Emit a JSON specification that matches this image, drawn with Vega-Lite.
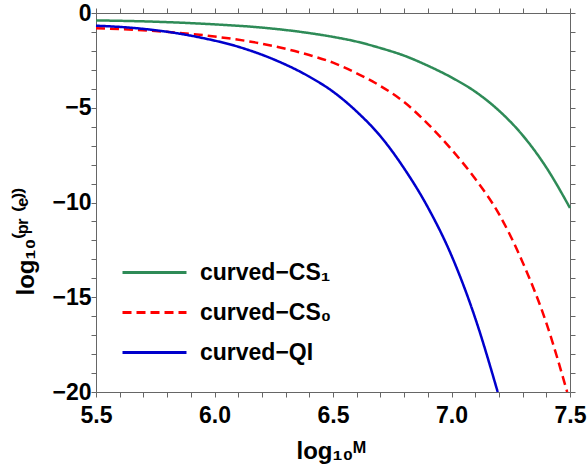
{
  "$schema": "https://vega.github.io/schema/vega-lite/v6.json",
  "width": 474,
  "height": 379,
  "autosize": {"type": "none"},
  "padding": {"left": 96, "top": 13, "right": 18, "bottom": 78},
  "config": {
    "view": {"stroke": null},
    "font": "Liberation Sans",
    "axis": {
      "grid": false,
      "zindex": 1,
      "domainColor": "#666666",
      "tickColor": "#666666",
      "domainWidth": 1,
      "tickWidth": 1,
      "labelFont": "Liberation Sans",
      "labelFontWeight": "bold",
      "labelFontSize": 23,
      "labelColor": "#000000",
      "titleFont": "Liberation Sans",
      "titleFontWeight": "bold",
      "titleFontSize": 24,
      "titleColor": "#000000"
    }
  },
  "data": {
    "values": [
      {"series": "curved−CS₁", "x": 5.5, "y": -0.39},
      {"series": "curved−CS₁", "x": 5.75, "y": -0.46},
      {"series": "curved−CS₁", "x": 6.0, "y": -0.6},
      {"series": "curved−CS₁", "x": 6.2, "y": -0.77},
      {"series": "curved−CS₁", "x": 6.4, "y": -1.06},
      {"series": "curved−CS₁", "x": 6.5, "y": -1.26},
      {"series": "curved−CS₁", "x": 6.6, "y": -1.51},
      {"series": "curved−CS₁", "x": 6.7, "y": -1.85},
      {"series": "curved−CS₁", "x": 6.8, "y": -2.25},
      {"series": "curved−CS₁", "x": 6.9, "y": -2.78},
      {"series": "curved−CS₁", "x": 7.0, "y": -3.4},
      {"series": "curved−CS₁", "x": 7.1, "y": -4.15},
      {"series": "curved−CS₁", "x": 7.2, "y": -5.15},
      {"series": "curved−CS₁", "x": 7.3, "y": -6.45},
      {"series": "curved−CS₁", "x": 7.4, "y": -8.15},
      {"series": "curved−CS₁", "x": 7.5, "y": -10.29},
      {"series": "curved−CS₀", "x": 5.5, "y": -0.8},
      {"series": "curved−CS₀", "x": 5.75, "y": -0.95},
      {"series": "curved−CS₀", "x": 6.0, "y": -1.24},
      {"series": "curved−CS₀", "x": 6.2, "y": -1.62},
      {"series": "curved−CS₀", "x": 6.4, "y": -2.22},
      {"series": "curved−CS₀", "x": 6.5, "y": -2.62},
      {"series": "curved−CS₀", "x": 6.6, "y": -3.18},
      {"series": "curved−CS₀", "x": 6.7, "y": -3.85},
      {"series": "curved−CS₀", "x": 6.8, "y": -4.7},
      {"series": "curved−CS₀", "x": 6.9, "y": -5.85},
      {"series": "curved−CS₀", "x": 7.0, "y": -7.2},
      {"series": "curved−CS₀", "x": 7.1, "y": -8.75},
      {"series": "curved−CS₀", "x": 7.2, "y": -10.6},
      {"series": "curved−CS₀", "x": 7.3, "y": -13.15},
      {"series": "curved−CS₀", "x": 7.4, "y": -16.35},
      {"series": "curved−CS₀", "x": 7.488, "y": -20},
      {"series": "curved−QI", "x": 5.5, "y": -0.67},
      {"series": "curved−QI", "x": 5.65, "y": -0.78},
      {"series": "curved−QI", "x": 5.8, "y": -0.99},
      {"series": "curved−QI", "x": 5.95, "y": -1.32},
      {"series": "curved−QI", "x": 6.1, "y": -1.78},
      {"series": "curved−QI", "x": 6.25, "y": -2.45},
      {"series": "curved−QI", "x": 6.4, "y": -3.36},
      {"series": "curved−QI", "x": 6.5, "y": -4.15},
      {"series": "curved−QI", "x": 6.6, "y": -5.2},
      {"series": "curved−QI", "x": 6.7, "y": -6.5},
      {"series": "curved−QI", "x": 6.8, "y": -8.2},
      {"series": "curved−QI", "x": 6.9, "y": -10.25},
      {"series": "curved−QI", "x": 7.0, "y": -12.8},
      {"series": "curved−QI", "x": 7.1, "y": -16.1},
      {"series": "curved−QI", "x": 7.195, "y": -20}
    ]
  },
  "resolve": {"axis": {"x": "independent", "y": "independent"}},
  "layer": [
    {
      "mark": {"type": "line", "strokeWidth": 2.5, "interpolate": "monotone"},
      "encoding": {
        "x": {
          "field": "x", "type": "quantitative",
          "scale": {"domain": [5.5, 7.5], "nice": false, "zero": false},
          "axis": {
            "orient": "bottom",
            "title": "log₁₀ᴹ",
            "titleBaseline": "alphabetic",
            "titleAlign": "left",
            "titleX": 200,
            "titleY": 66,
            "values": [5.5,5.6,5.7,5.8,5.9,6.0,6.1,6.2,6.3,6.4,6.5,6.6,6.7,6.8,6.9,7.0,7.1,7.2,7.3,7.4,7.5],
            "labelExpr": "abs(datum.value*2 - round(datum.value*2)) < 0.001 ? format(datum.value, '.1f') : ''",
            "tickSize": 5,
            "labelPadding": 7,
            "labelFlush": false,
            "labelOverlap": false
          }
        },
        "y": {
          "field": "y", "type": "quantitative",
          "scale": {"domain": [-20, 0], "nice": false, "zero": false},
          "axis": {
            "orient": "left",
            "title": "log₁₀⁽ᵖʳ ⁽ᵉ⁾⁾",
            "titleBaseline": "alphabetic",
            "titleAngle": 270,
            "titleAlign": "left",
            "titleX": -63,
            "titleY": 282,
            "values": [-20,-19,-18,-17,-16,-15,-14,-13,-12,-11,-10,-9,-8,-7,-6,-5,-4,-3,-2,-1,0],
            "labelExpr": "datum.value % 5 == 0 ? format(datum.value, 'd') : ''",
            "tickSize": 5,
            "labelPadding": 0,
            "labelFlush": false,
            "labelOverlap": false
          }
        },
        "color": {
          "field": "series", "type": "nominal",
          "scale": {"domain": ["curved−CS₁", "curved−CS₀", "curved−QI"], "range": ["#2e8b57", "#ff0000", "#0000cc"]},
          "legend": {
            "title": null,
            "orient": "none",
            "legendX": 46,
            "legendY": 247,
            "symbolType": "M-3,0H3",
            "symbolSize": 455,
            "symbolStrokeWidth": 3,
            "labelFont": "Liberation Sans",
            "labelFontWeight": "bold",
            "labelFontSize": 23,
            "labelColor": "#000000",
            "labelOffset": 33,
            "rowPadding": 15,
            "labelLimit": 300
          }
        },
        "strokeDash": {
          "field": "series", "type": "nominal",
          "scale": {"domain": ["curved−CS₁", "curved−CS₀", "curved−QI"], "range": [[1, 0], [9, 5], [1, 0]]},
          "legend": null
        }
      }
    },
    {
      "mark": {"type": "line", "opacity": 0},
      "encoding": {
        "x": {
          "field": "x", "type": "quantitative",
          "axis": {
            "orient": "top", "title": null, "labels": false, "tickSize": 5,
            "values": [5.5,5.6,5.7,5.8,5.9,6.0,6.1,6.2,6.3,6.4,6.5,6.6,6.7,6.8,6.9,7.0,7.1,7.2,7.3,7.4,7.5]
          }
        },
        "y": {
          "field": "y", "type": "quantitative",
          "axis": {
            "orient": "right", "title": null, "labels": false, "tickSize": 5,
            "values": [-20,-19,-18,-17,-16,-15,-14,-13,-12,-11,-10,-9,-8,-7,-6,-5,-4,-3,-2,-1,0]
          }
        },
        "detail": {"field": "series", "type": "nominal"}
      }
    }
  ]
}
